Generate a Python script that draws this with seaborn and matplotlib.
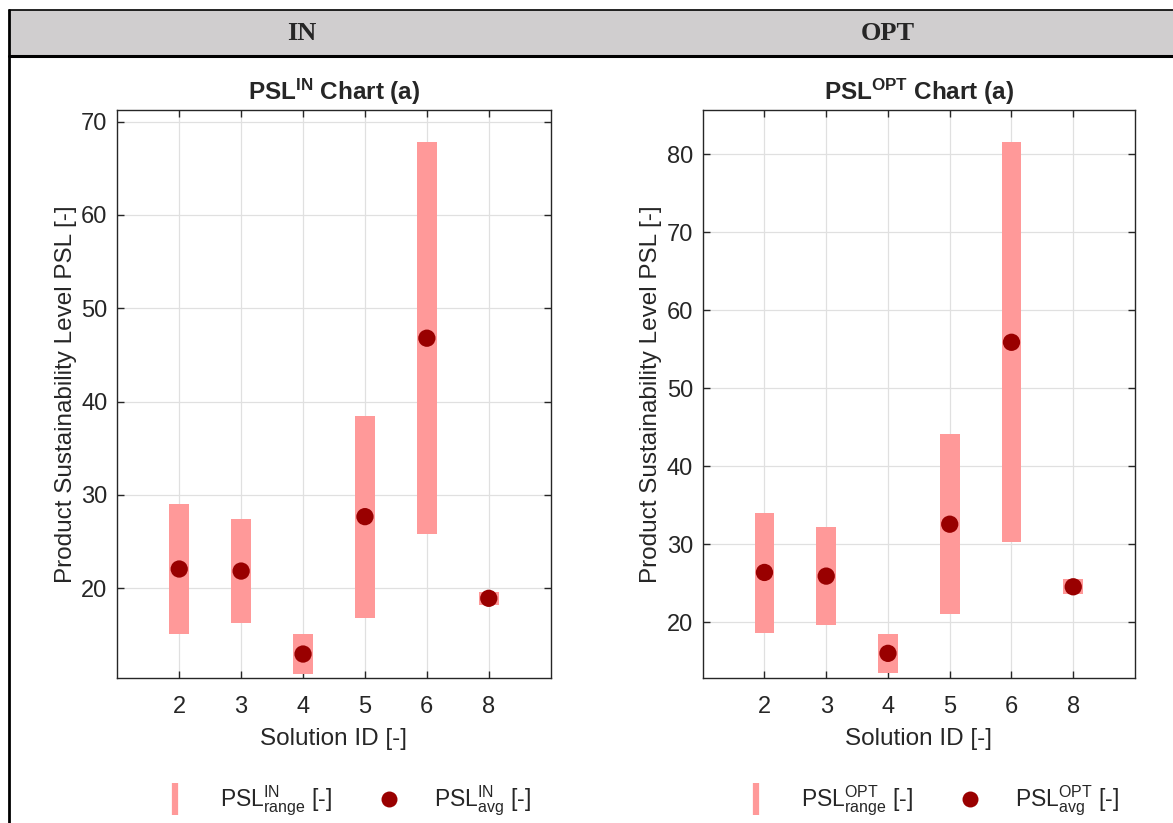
import numpy as np
import pandas as pd
import matplotlib
matplotlib.use("Agg")
import matplotlib.pyplot as plt
from matplotlib.lines import Line2D
from matplotlib.patches import Rectangle
import seaborn as sns

# ---- data ----
solution_ids = ["2", "3", "4", "5", "6", "8"]
in_low = [15.1, 16.3, 10.8, 16.85, 25.8, 18.24]
in_high = [29.07, 27.43, 15.1, 38.5, 67.86, 19.57]
in_avg = [22.07, 21.85, 12.96, 27.68, 46.8, 18.93]
opt_low = [18.63, 19.66, 13.47, 20.98, 30.26, 23.6]
opt_high = [34.06, 32.18, 18.46, 44.18, 81.54, 25.52]
opt_avg = [26.37, 25.9, 15.99, 32.56, 55.9, 24.53]
in_yticks = [20, 30, 40, 50, 60, 70]
opt_yticks = [20, 30, 40, 50, 60, 70, 80]

sns.set_style("ticks")
plt.rcParams["font.family"] = ["Liberation Sans", "DejaVu Sans"]
plt.rcParams["mathtext.fontset"] = "custom"
plt.rcParams["mathtext.rm"] = "Liberation Sans"
plt.rcParams["mathtext.it"] = "Liberation Sans:italic"
plt.rcParams["mathtext.bf"] = "Liberation Sans:bold"

RANGE_C = "#ff9999"
AVG_C = "#990000"
SPINE_C = "#262626"

fig = plt.figure(figsize=(11.73, 8.23), dpi=100)
fig.patch.set_facecolor("white")

W, H = 1173.0, 823.0

def fx(px):
    return px / W

def fy(py):
    return 1 - py / H

# table header
fig.add_artist(Rectangle((fx(9), fy(56)), fx(1173 - 9) + 0.01, fy(10) - fy(56),
                         transform=fig.transFigure, facecolor="#d0cecf",
                         edgecolor="none", zorder=0))
fig.add_artist(Line2D([fx(9), 1.0], [fy(10), fy(10)], transform=fig.transFigure,
                      color="black", lw=1.2))
fig.add_artist(Line2D([fx(9), 1.0], [fy(56), fy(56)], transform=fig.transFigure,
                      color="black", lw=2.2))
fig.add_artist(Line2D([fx(9), fx(9)], [fy(10), 0.0], transform=fig.transFigure,
                      color="black", lw=2.0))
fig.text(fx(302), fy(33), "IN", ha="center", va="center", fontsize=19,
         fontweight="bold", family="Liberation Serif")
fig.text(fx(888), fy(33), "OPT", ha="center", va="center", fontsize=19,
         fontweight="bold", family="Liberation Serif")

ax_top, ax_bot = 110.0, 678.3
panels = [
    dict(left=117.3, right=550.7, low=in_low, high=in_high, avg=in_avg,
         sup="IN", ylim=(10.36, 71.25), yticks=in_yticks),
    dict(left=702.7, right=1135.0, low=opt_low, high=opt_high, avg=opt_avg,
         sup="OPT", ylim=(12.79, 85.7), yticks=opt_yticks),
]

for p in panels:
    ax = fig.add_axes([fx(p["left"]), fy(ax_bot), (p["right"] - p["left"]) / W,
                       (ax_bot - ax_top) / H])
    pos = np.arange(1, len(solution_ids) + 1)
    low = np.array(p["low"])
    high = np.array(p["high"])
    ax.bar(pos, high - low, bottom=low, width=0.32, color=RANGE_C,
           edgecolor="none", zorder=2)
    df = pd.DataFrame({"pos": pos, "avg": p["avg"]})
    sns.scatterplot(data=df, x="pos", y="avg", ax=ax, color=AVG_C, s=155,
                    edgecolor="none", zorder=3, legend=False)
    ax.set_xlim(0, 7)
    ax.set_ylim(*p["ylim"])
    ax.set_xticks(pos)
    ax.set_xticklabels(solution_ids)
    ax.set_yticks(p["yticks"])
    ax.grid(True, color="#e0e0e0", lw=0.9, zorder=0)
    ax.set_axisbelow(True)
    for s in ax.spines.values():
        s.set_visible(True)
        s.set_color(SPINE_C)
        s.set_linewidth(1.0)
    ax.tick_params(direction="in", length=5, width=1.0, color=SPINE_C,
                   top=True, right=True, labelsize=17, labelcolor="#262626")
    ax.tick_params(axis="x", pad=13)
    ax.tick_params(axis="y", pad=7)
    ax.set_xlabel("Solution ID [-]", fontsize=17.5, color="#262626", labelpad=7)
    ax.set_ylabel("Product Sustainability Level PSL [-]", fontsize=17.5,
                  color="#262626", labelpad=3)
    ax.set_title(r"$\mathbf{PSL^{%s}}$ Chart (a)" % p["sup"], fontsize=17.5,
                 fontweight="bold", pad=7)
    handles = [
        Line2D([], [], ls="none", marker="|", markersize=23, mew=4.5,
               color=RANGE_C),
        Line2D([], [], ls="none", marker="o", markersize=11.5, mew=0,
               color=AVG_C),
    ]
    labels = [r"$\mathrm{PSL}^{\mathrm{%s}}_{\mathrm{range}}$ [-]" % p["sup"],
              r"$\mathrm{PSL}^{\mathrm{%s}}_{\mathrm{avg}}$ [-]" % p["sup"]]
    ax.legend(handles, labels, loc="center", bbox_to_anchor=(0.517, -0.216),
              ncol=2, frameon=False, fontsize=16.5, columnspacing=1.5,
              handletextpad=0.95)

fig.savefig("out.png", dpi=100, facecolor="white")
